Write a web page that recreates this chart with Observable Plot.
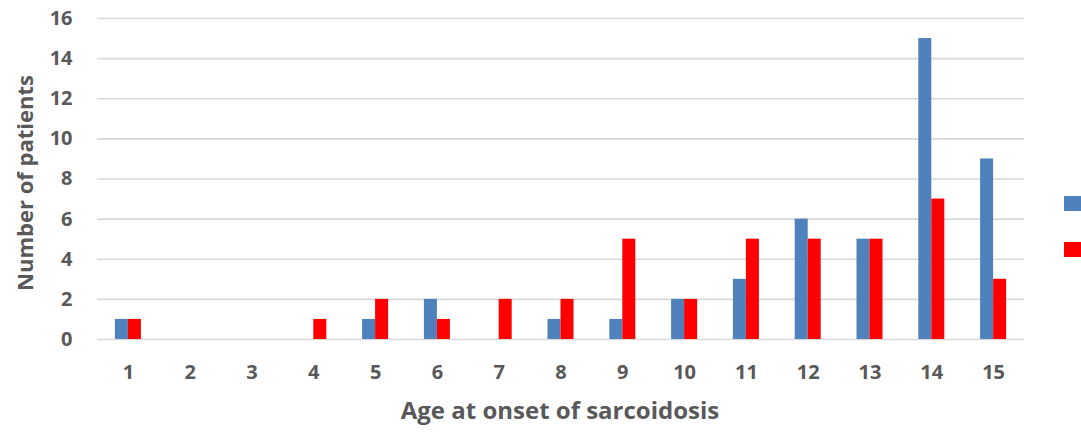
<!DOCTYPE html>
<html><head><meta charset="utf-8">
<script src="https://cdn.jsdelivr.net/npm/d3@7"></script>
<script src="https://cdn.jsdelivr.net/npm/@observablehq/plot@0.6"></script>
<style>
body{margin:0;background:#fff;}
#wrap{position:relative;width:1081px;height:437px;overflow:hidden;}
.lg{position:absolute;width:18px;height:15px;}
</style>
</head><body><div id="wrap"></div>
<script>
const ages = [1,2,3,4,5,6,7,8,9,10,11,12,13,14,15];
const seriesA = [1,0,0,0,1,2,0,1,1,2,3,6,5,15,9];
const seriesB = [1,0,0,1,2,1,2,2,5,2,5,5,5,7,3];
const seriesNames = ["A","B"];
const seriesColors = ["#4f81bd","#ff0000"];
const yTicks = [0,2,4,6,8,10,12,14,16];
const xTitle = "Age at onset of sarcoidosis";
const yTitle = "Number of patients";

const dataA = ages.map((a,i)=>({age:a, v:seriesA[i]}));
const dataB = ages.map((a,i)=>({age:a, v:seriesB[i]}));

const font = "'Open Sans', sans-serif";
const W = 1081, mL = 97, mR = 57;
const step = (W - mL - mR) / ages.length;
const barW = 13;
const chart = Plot.plot({
  width:W, height:437,
  marginLeft:mL, marginRight:mR, marginTop:18, marginBottom:98,
  style:{fontFamily:font, fontSize:"20px", fontWeight:"bold", color:"#595959", background:"#fff"},
  x:{domain:ages, padding:0, round:false, label:null, axis:null},
  y:{domain:[0,16], axis:null},
  marks:[
    Plot.ruleY(yTicks, {y:d=>d, stroke:"#d9d9d9", strokeWidth:1.6}),
    Plot.barY(dataA, {x:"age", y:"v", fill:seriesColors[0], insetLeft:step/2-barW, insetRight:step/2}),
    Plot.barY(dataB, {x:"age", y:"v", fill:seriesColors[1], insetLeft:step/2, insetRight:step/2-barW}),
    Plot.axisX(ages, {tickSize:0, tickPadding:25, label:null, fontSize:20, fontWeight:"bold", fill:"#595959"}),
    Plot.axisY(yTicks, {tickSize:0, tickPadding:25, label:null, fontSize:20, fontWeight:"bold", fill:"#595959"})
  ]
});
const wrap = document.getElementById("wrap");
wrap.appendChild(chart);
const svg = d3.select(chart);
svg.append("text").attr("x",560).attr("y",419).attr("text-anchor","middle")
  .attr("font-size",24).attr("font-weight","bold").attr("fill","#595959").attr("font-family",font).text(xTitle);
svg.append("text").attr("transform","translate(33,183) rotate(-90)").attr("text-anchor","middle")
  .attr("font-size",22).attr("font-weight","bold").attr("fill","#595959").attr("font-family",font).text(yTitle);
const lgTop=[196,242];
seriesColors.forEach((c,i)=>{
  const d=document.createElement("div");d.className="lg";
  d.style.left="1064px";d.style.top=lgTop[i]+"px";d.style.background=c;
  wrap.appendChild(d);
});
</script></body></html>
